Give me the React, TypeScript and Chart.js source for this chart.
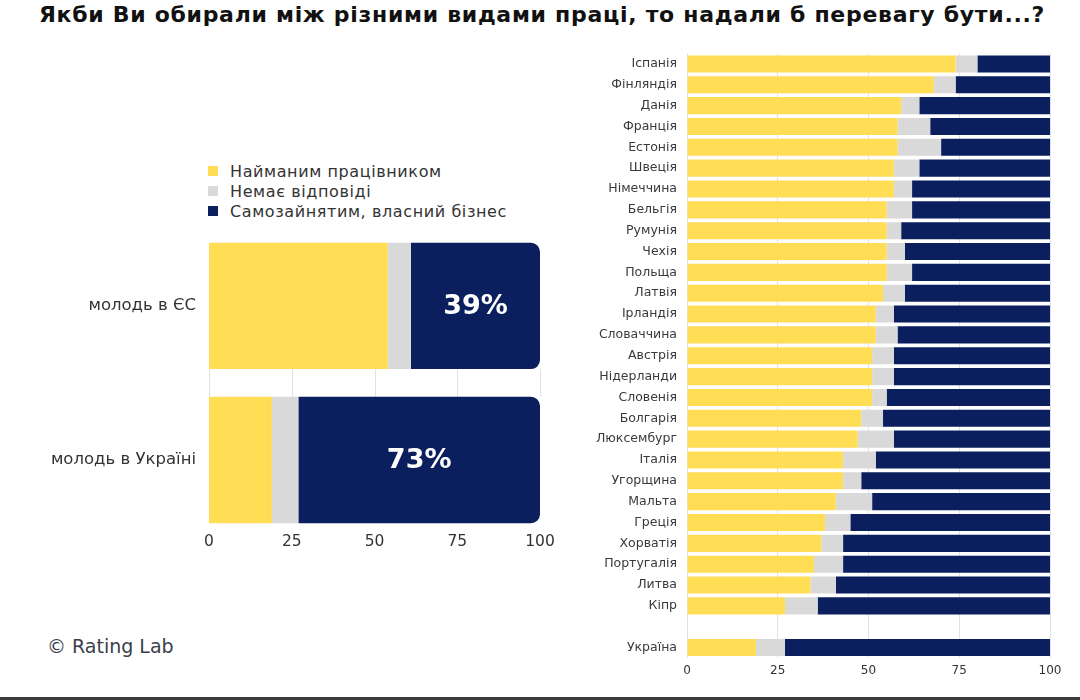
import React, { useEffect, useRef } from "react";
import { Chart, registerables } from "chart.js";

Chart.register(...registerables);

// ---------- data ----------
const seriesNames = ["Найманим працівником", "Немає відповіді", "Самозайнятим, власний бізнес"];

const groups = ["молодь в ЄС", "молодь в Україні"];
const groupEmployed = [54, 19];
const groupNoAnswer = [7, 8];
const groupSelf = [39, 73];

const countries = [
  "Іспанія", "Фінляндія", "Данія", "Франція", "Естонія", "Швеція", "Німеччина", "Бельгія",
  "Румунія", "Чехія", "Польща", "Латвія", "Ірландія", "Словаччина", "Австрія", "Нідерланди",
  "Словенія", "Болгарія", "Люксембург", "Італія", "Угорщина", "Мальта", "Греція", "Хорватія",
  "Португалія", "Литва", "Кіпр", "", "Україна",
];
const countryEmployed = [74, 68, 59, 58, 58, 57, 57, 55, 55, 55, 55, 54, 52, 52, 51, 51, 51, 48, 47, 43, 43, 41, 38, 37, 35, 34, 27, null, 19];
const countryNoAnswer = [6, 6, 5, 9, 12, 7, 5, 7, 4, 5, 7, 6, 5, 6, 6, 6, 4, 6, 10, 9, 5, 10, 7, 6, 8, 7, 9, null, 8];
const countrySelf = [20, 26, 36, 33, 30, 36, 38, 38, 41, 40, 38, 40, 43, 42, 43, 43, 45, 46, 43, 48, 52, 49, 55, 57, 57, 59, 64, null, 73];

const xTicks = [0, 25, 50, 75, 100];

const title = "Якби Ви обирали між різними видами праці, то надали б перевагу бути...?";
const credit = "© Rating Lab";

// ---------- style ----------
const YELLOW = "#FFDD55";
const GREY = "#D9D9D9";
const NAVY = "#0B1F5E";
const colors = [YELLOW, GREY, NAVY];
const FONT = "'DejaVu Sans', sans-serif";
const TEXT = "#333333";

const gapGridPlugin = {
  id: "gapGrid",
  beforeDatasetsDraw(chart: any) {
    const meta = chart.getDatasetMeta(0);
    const a = meta.data[0];
    const b = meta.data[1];
    if (!a || !b) return;
    const pa = a.getProps(["y", "height"], true);
    const pb = b.getProps(["y", "height"], true);
    const y0 = pa.y + pa.height / 2;
    const y1 = pb.y - pb.height / 2;
    const xs = chart.scales.x;
    const ctx = chart.ctx;
    ctx.save();
    ctx.strokeStyle = "#E2E2E2";
    ctx.lineWidth = 1;
    xTicks.forEach((t) => {
      const x = Math.round(xs.getPixelForValue(t)) + 0.5;
      ctx.beginPath();
      ctx.moveTo(x, y0);
      ctx.lineTo(x, y1);
      ctx.stroke();
    });
    ctx.restore();
  },
};

// pulls the x tick row of the left chart up, closer to the bars
const raiseTicksPlugin = {
  id: "raiseTicks",
  afterLayout(chart: any) {
    chart.scales.x.top -= 4;
  },
};

const valueLabelPlugin = {
  id: "valueLabel",
  afterDatasetsDraw(chart: any) {
    const meta = chart.getDatasetMeta(2);
    const ds = chart.data.datasets[2];
    const ctx = chart.ctx;
    ctx.save();
    ctx.fillStyle = "#FFFFFF";
    ctx.font = `bold 27px ${FONT}`;
    ctx.textAlign = "center";
    ctx.textBaseline = "middle";
    meta.data.forEach((el: any, i: number) => {
      const p = el.getProps(["x", "y", "base"], true);
      ctx.fillText(`${ds.data[i]}%`, (p.x + p.base) / 2, p.y + 1);
    });
    ctx.restore();
  },
};

export default function App() {
  const leftRef = useRef<HTMLCanvasElement>(null);
  const rightRef = useRef<HTMLCanvasElement>(null);

  useEffect(() => {
    const left = new Chart(leftRef.current!, {
      type: "bar",
      data: {
        labels: groups,
        datasets: [groupEmployed, groupNoAnswer, groupSelf].map((d, i) => ({
          label: seriesNames[i],
          data: d,
          backgroundColor: colors[i],
          borderWidth: 0,
          borderRadius: i === 2 ? 9 : 0,
          barPercentage: 0.82,
          categoryPercentage: 1,
        })),
      },
      options: {
        indexAxis: "y",
        responsive: false,
        animation: false,
        layout: { padding: { top: 0, right: 20, left: 0, bottom: 0 } },
        plugins: { legend: { display: false }, tooltip: { enabled: false } },
        scales: {
          x: {
            stacked: true,
            min: 0,
            max: 100,
            afterBuildTicks: (s: any) => { s.ticks = xTicks.map((v) => ({ value: v })); },
            afterFit: (s: any) => { s.height = 23; },
            grid: { display: false, drawTicks: false },
            border: { display: false },
            ticks: { color: TEXT, font: { family: FONT, size: 15.5 }, padding: 0 },
          },
          y: {
            stacked: true,
            afterFit: (s: any) => { s.width = 209; },
            grid: { display: false, drawTicks: false },
            border: { display: false },
            ticks: { color: TEXT, font: { family: FONT, size: 16.5 }, padding: 13 },
          },
        },
      },
      plugins: [gapGridPlugin, valueLabelPlugin, raiseTicksPlugin],
    } as any);

    const right = new Chart(rightRef.current!, {
      type: "bar",
      data: {
        labels: countries,
        datasets: [countryEmployed, countryNoAnswer, countrySelf].map((d, i) => ({
          label: seriesNames[i],
          data: d,
          backgroundColor: colors[i],
          borderWidth: 0,
          barPercentage: 0.82,
          categoryPercentage: 1,
        })),
      },
      options: {
        indexAxis: "y",
        responsive: false,
        animation: false,
        layout: { padding: { top: 0, right: 20, left: 0, bottom: 0 } },
        plugins: { legend: { display: false }, tooltip: { enabled: false } },
        scales: {
          x: {
            stacked: true,
            min: 0,
            max: 100,
            afterBuildTicks: (s: any) => { s.ticks = xTicks.map((v) => ({ value: v })); },
            afterFit: (s: any) => { s.height = 30; },
            grid: { color: "#E2E2E2", drawTicks: false },
            border: { display: false },
            ticks: { color: TEXT, font: { family: FONT, size: 12 }, padding: 6 },
          },
          y: {
            stacked: true,
            afterFit: (s: any) => { s.width = 127; },
            grid: { display: false, drawTicks: false },
            border: { display: false },
            ticks: { color: "#3A3A3A", font: { family: FONT, size: 12.5 }, padding: 10, autoSkip: false },
          },
        },
      },
    } as any);

    return () => {
      left.destroy();
      right.destroy();
    };
  }, []);

  return (
    <div style={{ position: "absolute", left: 0, top: 0, width: 1080, height: 700, background: "#fff", overflow: "hidden", fontFamily: FONT }}>
      <div style={{ position: "absolute", left: 0, top: 2, width: 1084, textAlign: "center", fontWeight: "bold", fontSize: 22, color: "#111", letterSpacing: 0.7, whiteSpace: "nowrap" }}>
        {title}
      </div>
      <div style={{ position: "absolute", left: 208, top: 161 }}>
        {seriesNames.map((n, i) => (
          <div key={n} style={{ display: "flex", alignItems: "center", height: 20, fontSize: 16, letterSpacing: 0.6, color: TEXT }}>
            <span style={{ display: "inline-block", width: 10, height: 10, background: colors[i], marginRight: 12 }} />
            {n}
          </div>
        ))}
      </div>
      <canvas ref={leftRef} width={560} height={354} style={{ position: "absolute", left: 0, top: 206, width: 560, height: 354 }} />
      <canvas ref={rightRef} width={510} height={652} style={{ position: "absolute", left: 560, top: 36, width: 510, height: 652 }} />
      <div style={{ position: "absolute", left: 47, top: 635, fontSize: 19, color: "#3A3F4A" }}>{credit}</div>
      <div style={{ position: "absolute", left: 0, top: 697, width: 1080, height: 3, background: "#3C3C3C" }} />
    </div>
  );
}
